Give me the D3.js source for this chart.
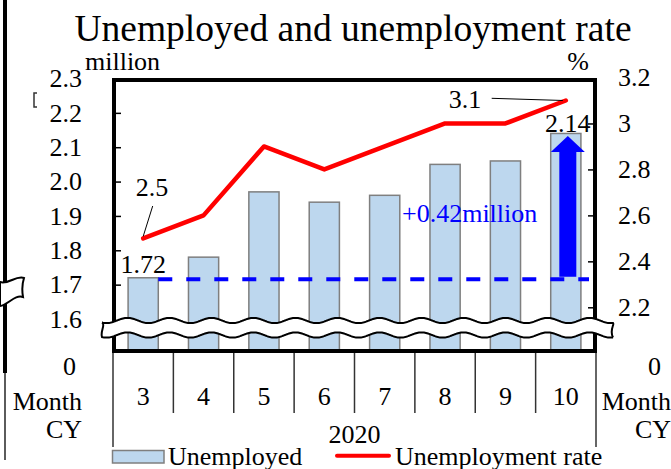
<!DOCTYPE html>
<html>
<head>
<meta charset="utf-8">
<script src="https://cdn.jsdelivr.net/npm/d3@7"></script>
<style>
  html, body { margin: 0; padding: 0; background: #fff; }
  svg { display: block; }
  svg text { font-family: "Liberation Serif", "Times New Roman", serif; }
</style>
</head>
<body>
<svg id="chart" width="671" height="469"></svg>
<script>
// Monthly figures, calendar year 2020
const months = ["3", "4", "5", "6", "7", "8", "9", "10"];
const yearLabel = "2020";
const unemployed = [1.72, 1.78, 1.97, 1.94, 1.96, 2.05, 2.06, 2.14];   // million
const rate = [2.5, 2.6, 2.9, 2.8, 2.9, 3.0, 3.0, 3.1];                   // %
const leftTicks = [0, 1.6, 1.7, 1.8, 1.9, 2.0, 2.1, 2.2, 2.3];
const rightTicks = [0, 2.2, 2.4, 2.6, 2.8, 3, 3.2];

const SERIF = '"Liberation Serif", "Times New Roman", serif';
const svg = d3.select("#chart");
const FONT = 26;

// plot frame
const frame = { left: 114, right: 595, top: 80, bottom: 351 };

const x = d3.scaleBand().domain(months).range([113, 596]);
// broken axes: the stretch below the first labelled value is compressed
const yL = d3.scaleLinear().domain([0, 1.6, 2.3]).range([366, 319, 78.5]);
const yR = d3.scaleLinear().domain([0, 2.2, 3.2]).range([366, 307.3, 77.5]);
const cx = m => x(m) + x.bandwidth() / 2;

// ---- fragment of the neighbouring panel at the left edge ----
svg.append("line").attr("x1", 5).attr("x2", 5).attr("y1", 0).attr("y2", 373)
  .attr("stroke", "#000").attr("stroke-width", 4);
svg.append("line").attr("x1", 5).attr("x2", 5).attr("y1", 373).attr("y2", 460)
  .attr("stroke", "#333").attr("stroke-width", 1.6);
svg.append("path").attr("d", "M0,282 C8,285 16,275 24,278 C22,284 22,291 23,297 C15,294 8,305 0,306 Z")
  .attr("fill", "#fff").attr("stroke", "#000").attr("stroke-width", 2);
svg.append("path").attr("d", "M37,93 L34,93 L34,107 L37,107")
  .attr("fill", "none").attr("stroke", "#333").attr("stroke-width", 1.5);

// ---- title and unit labels ----
svg.append("text").attr("x", 353).attr("y", 41).attr("text-anchor", "middle")
  .attr("font-family", SERIF).attr("font-size", 37.5).text("Unemployed and unemployment rate");
svg.append("text").attr("x", 85).attr("y", 70).attr("font-family", SERIF).attr("font-size", FONT).text("million");
svg.append("text").attr("x", 578).attr("y", 70).attr("text-anchor", "middle").attr("font-family", SERIF).attr("font-size", FONT).text("%");

// ---- bars ----
const clip = svg.append("clipPath").attr("id", "plotclip");
clip.append("rect").attr("x", frame.left).attr("y", frame.top)
  .attr("width", frame.right - frame.left).attr("height", frame.bottom - frame.top);

const barW = x.bandwidth() * 0.5;
svg.append("g").attr("clip-path", "url(#plotclip)")
  .selectAll("rect").data(months).join("rect")
  .attr("x", (m) => cx(m) - barW / 2)
  .attr("y", (m, i) => yL(unemployed[i]))
  .attr("width", barW)
  .attr("height", (m, i) => yL(0) - yL(unemployed[i]))
  .attr("fill", "#bdd7ee").attr("stroke", "#7f7f7f").attr("stroke-width", 1.5);

// ---- inner tick marks ----
const leftInner = d3.axisRight(yL).tickValues(leftTicks.filter(v => v > 1.6 && v < 2.3)).tickSize(7).tickFormat("");
svg.append("g").attr("transform", `translate(${frame.left},0)`).call(leftInner)
  .call(g => g.select(".domain").remove())
  .call(g => g.selectAll("line").attr("stroke", "#000").attr("stroke-width", 1.5));
const rightInner = d3.axisLeft(yR).tickValues(rightTicks.filter(v => v > 0 && v < 3.2)).tickSize(7).tickFormat("");
svg.append("g").attr("transform", `translate(${frame.right},0)`).call(rightInner)
  .call(g => g.select(".domain").remove())
  .call(g => g.selectAll("line").attr("stroke", "#000").attr("stroke-width", 1.5));

// ---- baseline level (March) and increase arrow ----
const base = unemployed[0];
const last = unemployed[unemployed.length - 1];
const baseY = yL(base) + 1.5;
svg.append("line")
  .attr("x1", cx(months[0]) + barW / 2).attr("x2", 589)
  .attr("y1", baseY).attr("y2", baseY)
  .attr("stroke", "#0000ff").attr("stroke-width", 4).attr("stroke-dasharray", "14,14");

const ax = cx(months[months.length - 1]) + 2;
const tipY = yL(last) + 2.5;
const headH = 16, headW = 17, shaftW = 8.5;
svg.append("path")
  .attr("d", `M${ax},${tipY} L${ax + headW},${tipY + headH} L${ax + shaftW},${tipY + headH}
              L${ax + shaftW},${baseY - 2.5} L${ax - shaftW},${baseY - 2.5} L${ax - shaftW},${tipY + headH}
              L${ax - headW},${tipY + headH} Z`)
  .attr("fill", "#0000ff");
svg.append("text").attr("x", 402).attr("y", 222).attr("font-family", SERIF).attr("font-size", FONT).attr("fill", "#0000ff")
  .text(d3.format("+.2f")(last - base) + "million");

// ---- unemployment rate line ----
svg.append("path")
  .datum(rate)
  .attr("d", d3.line().x((d, i) => cx(months[i])).y(d => yR(d)))
  .attr("fill", "none").attr("stroke", "#ff0000").attr("stroke-width", 4.5)
  .attr("stroke-linejoin", "round").attr("stroke-linecap", "round");

// ---- frame ----
svg.append("rect").attr("x", frame.left).attr("y", frame.top)
  .attr("width", frame.right - frame.left).attr("height", frame.bottom - frame.top)
  .attr("fill", "none").attr("stroke", "#000").attr("stroke-width", 4);

// ---- axis break band ----
function wave(x0, x1, y0, period, amp, phase) {
  const pts = [];
  for (let xx = x0; xx <= x1; xx += 1) pts.push([xx, y0 + amp * Math.sin((xx - phase) / period * 2 * Math.PI)]);
  return pts;
}
const topW = wave(102, 613, 320.5, 42, 2.6, 96);
const botW = wave(102, 613, 335, 42, 2.6, 96).reverse();
const bandPath = "M" + topW.map(p => p.join(",")).join("L")
  + ` C615,324 609,330 ${botW[0][0]},${botW[0][1]}`
  + "L" + botW.map(p => p.join(",")).join("L")
  + ` C100,331 106,324 ${topW[0][0]},${topW[0][1]} Z`;
svg.append("path").attr("d", bandPath).attr("fill", "#fff").attr("stroke", "none");
svg.append("path").attr("d", "M" + topW.map(p => p.join(",")).join("L") + ` C615,324 609,330 ${botW[0][0]},${botW[0][1]}`)
  .attr("fill", "none").attr("stroke", "#000").attr("stroke-width", 2);
svg.append("path").attr("d", "M" + botW.map(p => p.join(",")).join("L") + ` C100,331 106,324 ${topW[0][0]},${topW[0][1]}`)
  .attr("fill", "none").attr("stroke", "#000").attr("stroke-width", 2);

// ---- value axes labels ----
const styleAxis = g => g
  .attr("font-family", SERIF).attr("font-size", FONT)
  .call(g => g.select(".domain").remove())
  .call(g => g.selectAll("text").attr("fill", "#000"));

const leftAxis = d3.axisLeft(yL).tickValues(leftTicks).tickSize(0).tickPadding(32)
  .tickFormat(v => v === 0 ? "0" : d3.format(".1f")(v));
svg.append("g").attr("transform", `translate(${frame.left},0)`).call(leftAxis).call(styleAxis)
  .call(g => g.selectAll(".tick").filter(v => v === 0).select("text").attr("dx", -6));

const rightAxis = d3.axisRight(yR).tickValues(rightTicks).tickSize(0).tickPadding(23)
  .tickFormat(d3.format("~g"));
svg.append("g").attr("transform", `translate(${frame.right},0)`).call(rightAxis).call(styleAxis)
  .call(g => g.selectAll(".tick").filter(v => v === 0).select("text").attr("text-anchor", "end").attr("x", 66));

// ---- category axis ----
const bottomAxis = d3.axisBottom(x).tickSize(0).tickPadding(36);
svg.append("g").attr("transform", `translate(0,${frame.bottom})`).call(bottomAxis).call(styleAxis);

// separators between months, longer outer ones enclosing the year
const edges = months.map(m => x(m)).concat([x.range()[1]]);
svg.append("g").selectAll("line").data(edges).join("line")
  .attr("x1", d => d).attr("x2", d => d)
  .attr("y1", frame.bottom + 2)
  .attr("y2", (d, i) => (i === 0 || i === edges.length - 1) ? 447 : 413)
  .attr("stroke", "#333").attr("stroke-width", 1.5);

svg.append("text").attr("x", (x.range()[0] + x.range()[1]) / 2).attr("y", 443)
  .attr("text-anchor", "middle").attr("font-family", SERIF).attr("font-size", FONT).text(yearLabel);

// row captions on both sides
[[82, "end"], [671, "end"]].forEach(([xx, anchor]) => {
  svg.append("text").attr("x", xx).attr("y", 410).attr("text-anchor", anchor).attr("font-family", SERIF).attr("font-size", FONT).text("Month");
  svg.append("text").attr("x", xx).attr("y", 438).attr("text-anchor", anchor).attr("font-family", SERIF).attr("font-size", FONT).text("CY");
});

// ---- value callouts ----
const lblStyle = s => s.attr("font-family", SERIF).attr("font-size", FONT).attr("text-anchor", "middle").attr("fill", "#000");
svg.append("text").attr("x", cx(months[0])).attr("y", 272.5).call(lblStyle).text(d3.format(".2f")(unemployed[0]));
svg.append("text").attr("x", cx(months[7]) + 2).attr("y", 131.5).call(lblStyle).text(d3.format(".2f")(unemployed[7]));
svg.append("text").attr("x", 152).attr("y", 196).call(lblStyle).text(d3.format(".1f")(rate[0]));
svg.append("line").attr("x1", 152.7).attr("y1", 206).attr("x2", cx(months[0])).attr("y2", yR(rate[0]) - 2)
  .attr("stroke", "#000").attr("stroke-width", 1);
svg.append("text").attr("x", 465).attr("y", 108).call(lblStyle).text(d3.format(".1f")(rate[7]));
svg.append("line").attr("x1", 491.7).attr("y1", 98.3).attr("x2", cx(months[7]) - 3).attr("y2", yR(rate[7]))
  .attr("stroke", "#000").attr("stroke-width", 1);

// ---- legend ----
const leg = svg.append("g");
leg.append("rect").attr("x", 112.5).attr("y", 450.5).attr("width", 51.5).attr("height", 12.5)
  .attr("fill", "#bdd7ee").attr("stroke", "#7f7f7f").attr("stroke-width", 1.5);
leg.append("text").attr("x", 168).attr("y", 464.5).attr("font-family", SERIF).attr("font-size", FONT).text("Unemployed");
leg.append("line").attr("x1", 337).attr("x2", 389).attr("y1", 455.7).attr("y2", 455.7)
  .attr("stroke", "#ff0000").attr("stroke-width", 4).attr("stroke-linecap", "round");
leg.append("text").attr("x", 395).attr("y", 464.5).attr("font-family", SERIF).attr("font-size", FONT).text("Unemployment rate");
</script>
</body>
</html>
